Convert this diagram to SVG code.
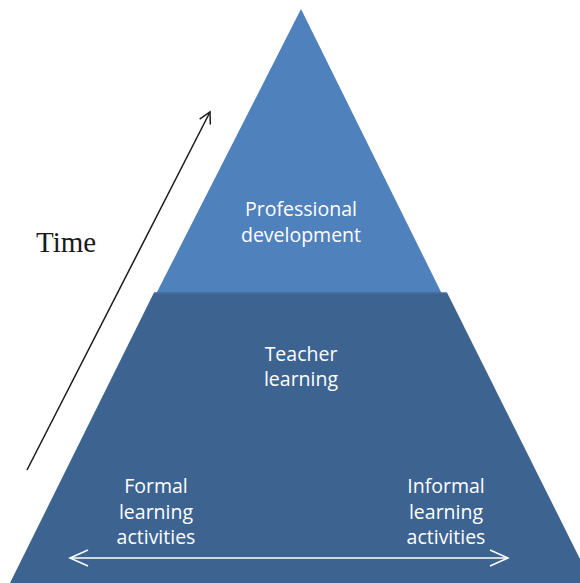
<svg xmlns="http://www.w3.org/2000/svg" width="580" height="583" viewBox="0 0 580 583">
<defs>
<style>
.lbl{font-family:"Open Sans","Liberation Sans",sans-serif;font-size:19.5px;fill:#ffffff;text-anchor:middle}
.time{font-family:"Liberation Serif",serif;font-size:29px;fill:#1a1a1a}
</style>
<marker id="openB" markerWidth="14" markerHeight="14" refX="12" refY="7" orient="auto" markerUnits="userSpaceOnUse">
<path d="M1,1 L12,7 L1,13" fill="none" stroke="#1a1a1a" stroke-width="1.5"/>
</marker>
<marker id="openW" markerWidth="22" markerHeight="20" refX="20" refY="10" orient="auto-start-reverse" markerUnits="userSpaceOnUse">
<path d="M2,2 L20,10 L2,18" fill="none" stroke="#ffffff" stroke-width="1.5"/>
</marker>
</defs>
<rect width="580" height="583" fill="#ffffff"/>
<g id="top-tier">
<polygon points="301,9 443,296 155,296" fill="#4F81BD"/>
<text class="lbl" x="301" y="216">Professional</text>
<text class="lbl" x="301" y="242">development</text>
</g>
<g id="bottom-tier">
<polygon points="154,292.5 447,292.5 592,583 10,583" fill="#3D6391"/>
<line x1="154.5" y1="293.2" x2="446.5" y2="293.2" stroke="#4A6E9E" stroke-width="1.2"/>
<text class="lbl" x="301" y="361">Teacher</text>
<text class="lbl" x="301" y="386">learning</text>
</g>
<g id="formal">
<text class="lbl" x="156" y="493">Formal</text>
<text class="lbl" x="156" y="519">learning</text>
<text class="lbl" x="156" y="544">activities</text>
</g>
<g id="informal">
<text class="lbl" x="446" y="493">Informal</text>
<text class="lbl" x="446" y="519">learning</text>
<text class="lbl" x="446" y="544">activities</text>
</g>
<g id="time-label">
<text class="time" x="36" y="252">Time</text>
</g>
<g id="connectors">
<line x1="27" y1="470" x2="210" y2="112" stroke="#1a1a1a" stroke-width="1.5" marker-end="url(#openB)"/>
<line x1="70" y1="558" x2="508" y2="558" stroke="#ffffff" stroke-width="1.5" marker-start="url(#openW)" marker-end="url(#openW)"/>
</g>
</svg>
